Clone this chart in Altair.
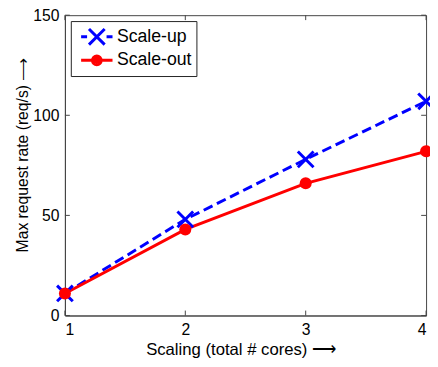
import altair as alt
import pandas as pd

# ---- data ----
cores = [1, 2, 3, 4]
scale_up = [11, 48, 78, 107]
scale_out = [11, 43, 66, 82]
series_names = ["Scale-up", "Scale-out"]
series_colors = ["#0000ff", "#ff0000"]
x_ticks = [1, 2, 3, 4]
y_ticks = [0, 50, 100, 150]
x_title = "Scaling (total # cores) \u27f6"
y_title = "Max request rate (req/s) \u27f6"

df = pd.DataFrame({
    "cores": cores + cores,
    "rate": scale_up + scale_out,
    "series": [series_names[0]] * len(cores) + [series_names[1]] * len(cores),
})
xt = pd.DataFrame({"cores": x_ticks})
yt = pd.DataFrame({"rate": y_ticks})

W, H = 368, 306
TK = 5
FONT = "Liberation Sans"
AXC = "#444444"

x_scale = alt.Scale(domain=[1, 4], nice=False, zero=False)
y_scale = alt.Scale(domain=[0, 150], nice=False)
color_scale = alt.Scale(domain=series_names, range=series_colors)

X_PATH = "M-1,-1L1,1M-1,1L1,-1"
# legend glyphs: "-X-" and "--o--" (filled disc drawn as two stroked rings)
LEG_UP = "M-1,0L-0.62,0M0.62,0L1,0M-0.5,-0.5L0.5,0.5M-0.5,0.5L0.5,-0.5"
LEG_OUT = ("M-1,0L1,0"
           "M0.28,0A0.28,0.28 0 1 1 -0.28,0A0.28,0.28 0 1 1 0.28,0Z"
           "M0.1,0A0.1,0.1 0 1 1 -0.1,0A0.1,0.1 0 1 1 0.1,0Z")

base = alt.Chart(df)
up = base.transform_filter(alt.datum.series == series_names[0])
out = base.transform_filter(alt.datum.series == series_names[1])

main_x = alt.Axis(orient="bottom", values=x_ticks, title=x_title, ticks=False, grid=False,
                  domainColor=AXC, labelPadding=6, titlePadding=5, format="d",
                  titleFontSize=17, titleX=179)
main_y = alt.Axis(orient="left", values=y_ticks, title=y_title, ticks=False, grid=False,
                  domainColor=AXC, labelPadding=6, titlePadding=2, format="d",
                  titleFontSize=16, titleY=142)

X_ENC = alt.X("cores:Q", scale=x_scale, axis=main_x)
Y_ENC = alt.Y("rate:Q", scale=y_scale, axis=main_y)

up_line = up.mark_line(strokeWidth=3, color=series_colors[0], strokeDash=[10, 5]).encode(
    x=X_ENC, y=Y_ENC)
out_line = out.mark_line(strokeWidth=3, color=series_colors[1]).encode(x=X_ENC, y=Y_ENC)

up_points = up.mark_point(
    shape=X_PATH, size=256, strokeWidth=3, filled=False, color=series_colors[0], opacity=1
).encode(x=X_ENC, y=Y_ENC)
out_points = out.mark_circle(size=150, color=series_colors[1], opacity=1).encode(x=X_ENC, y=Y_ENC)

legend = alt.Legend(
    orient="top-left", offset=6, title=None, strokeColor="#222222", fillColor="white",
    padding=4, labelFont=FONT, labelFontSize=18, labelColor="black", labelOffset=3,
    symbolStrokeWidth=3, symbolSize=1024, symbolOpacity=1, rowPadding=0,
    clipHeight=24, symbolOffset=5,
)
legend_layer = base.transform_filter(alt.datum.cores < 0).mark_point(
    filled=False, opacity=1, strokeWidth=3
).encode(
    x=X_ENC, y=Y_ENC,
    color=alt.Color("series:N", scale=color_scale, legend=legend),
    shape=alt.Shape("series:N", scale=alt.Scale(domain=series_names, range=[LEG_UP, LEG_OUT]),
                    legend=legend),
)

# inward MATLAB-style ticks on all four edges
tick_x_bottom = alt.Chart(xt).mark_rule(color=AXC, strokeWidth=1).encode(
    x=alt.X("cores:Q", scale=x_scale), y=alt.value(H), y2=alt.value(H - TK))
tick_x_top = alt.Chart(xt).mark_rule(color=AXC, strokeWidth=1).encode(
    x=alt.X("cores:Q", scale=x_scale), y=alt.value(0), y2=alt.value(TK))
tick_y_left = alt.Chart(yt).mark_rule(color=AXC, strokeWidth=1).encode(
    y=alt.Y("rate:Q", scale=y_scale), x=alt.value(0), x2=alt.value(TK))
tick_y_right = alt.Chart(yt).mark_rule(color=AXC, strokeWidth=1).encode(
    y=alt.Y("rate:Q", scale=y_scale), x=alt.value(W), x2=alt.value(W - TK))

chart = alt.layer(
    up_line, out_line, up_points, out_points, legend_layer,
    tick_x_bottom, tick_x_top, tick_y_left, tick_y_right,
).properties(
    width=W, height=H,
    autosize=alt.AutoSizeParams(type="none"),
    padding={"left": 58, "top": 4, "right": 4, "bottom": 41},
).configure_view(stroke=AXC, strokeWidth=1).configure_axis(
    labelFont=FONT, labelFontSize=16, labelColor="black",
    titleFont=FONT, titleColor="black", titleFontWeight="normal",
)

chart.save("out.html", embed_options={"renderer": "svg", "actions": False})
